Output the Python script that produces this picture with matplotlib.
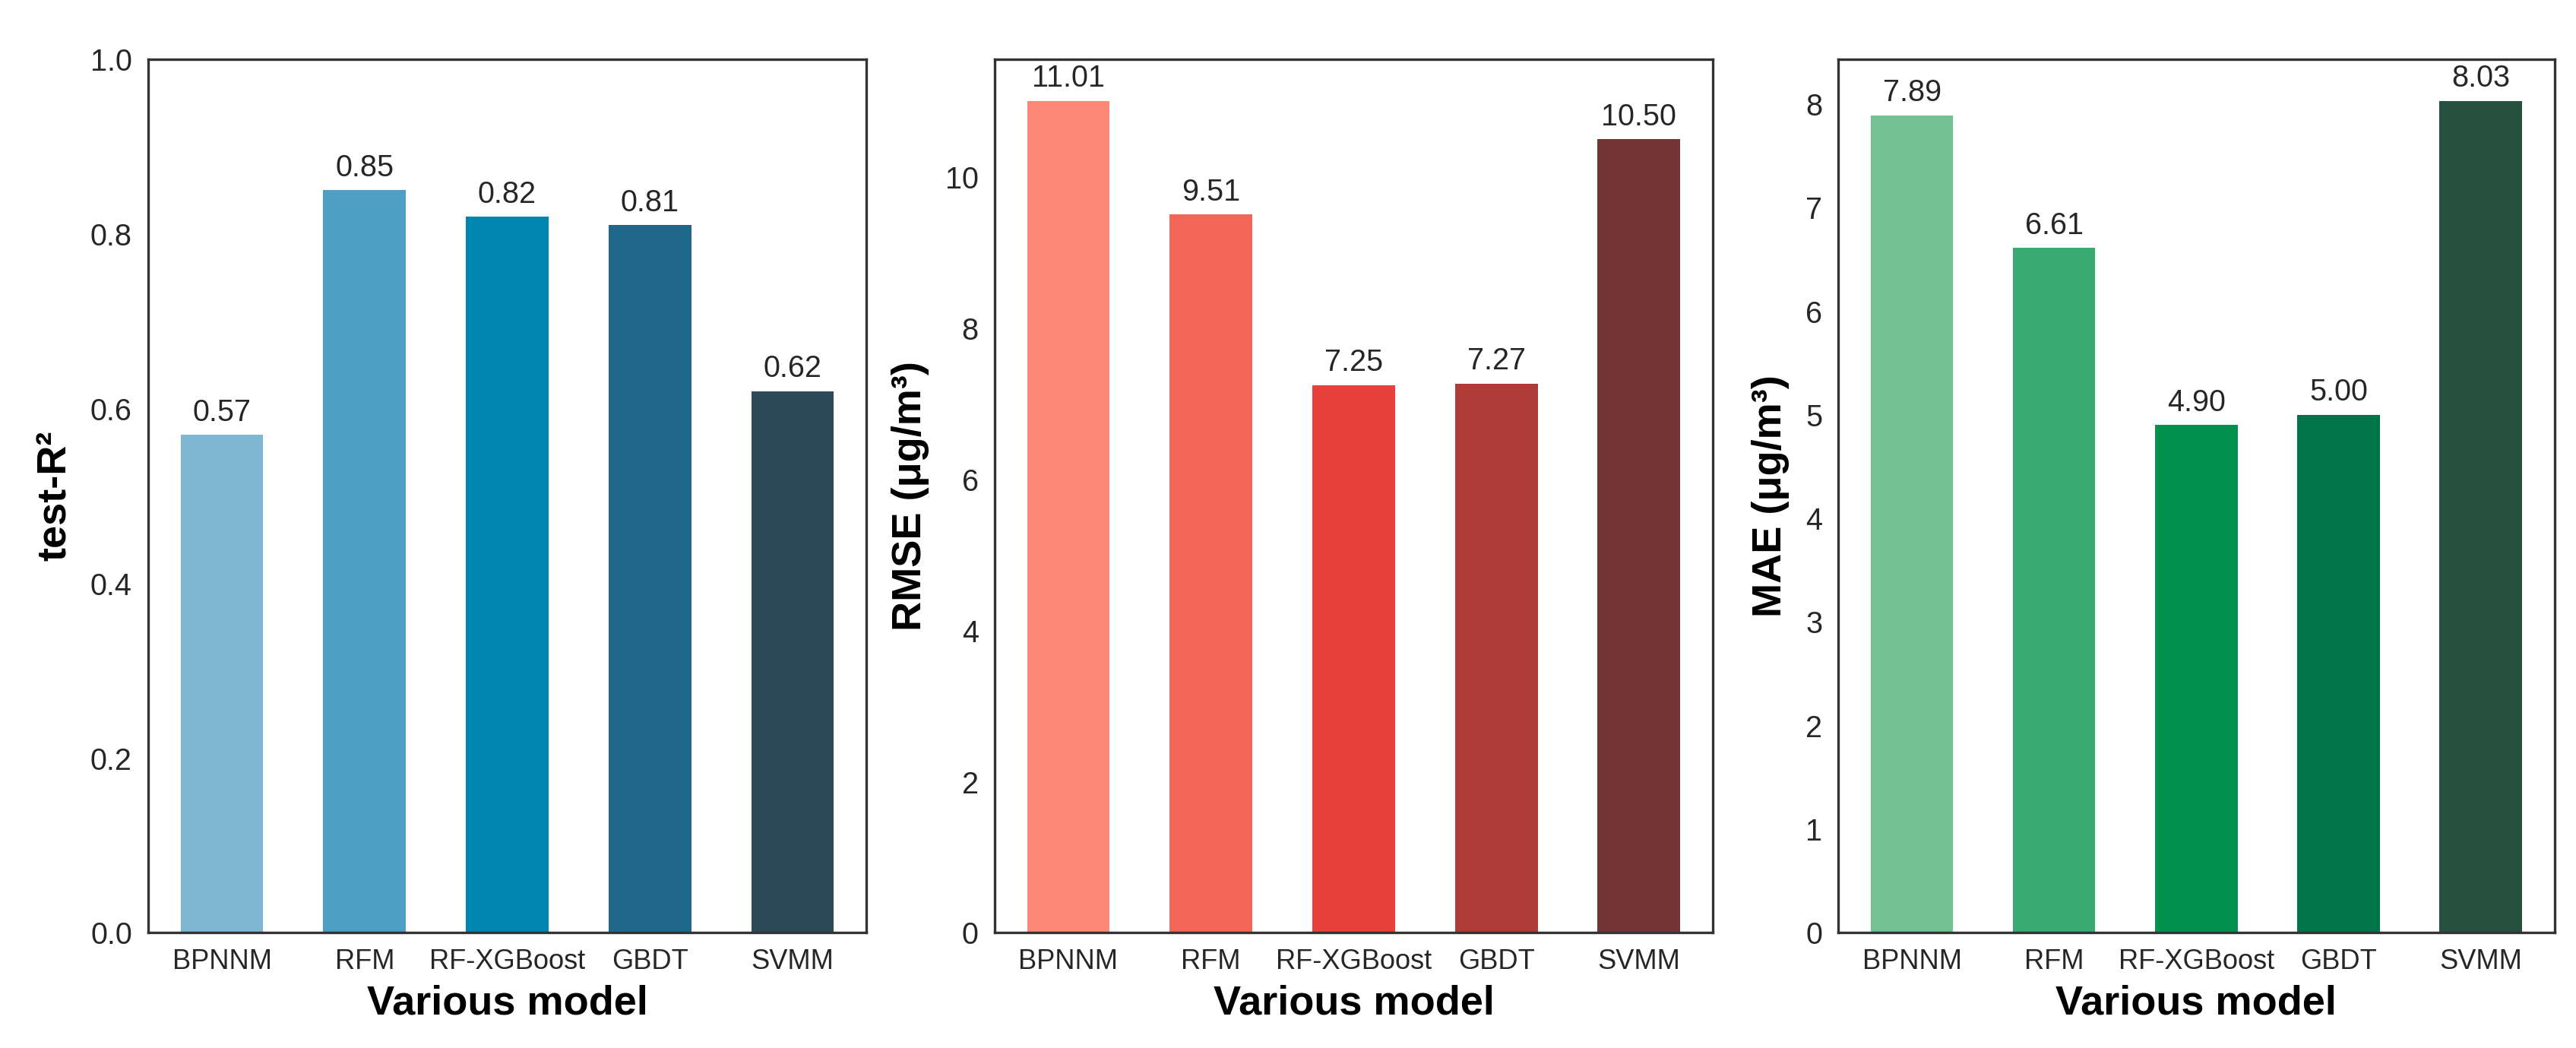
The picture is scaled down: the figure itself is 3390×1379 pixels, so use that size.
import matplotlib.pyplot as plt

plt.rcParams['font.family'] = ['Liberation Sans', 'DejaVu Sans']

models = ['BPNNM', 'RFM', 'RF-XGBoost', 'GBDT', 'SVMM']
r2 = [0.57, 0.85, 0.82, 0.81, 0.62]
rmse = [11.01, 9.51, 7.25, 7.27, 10.50]
mae = [7.89, 6.61, 4.90, 5.00, 8.03]

blues = ['#7fb6d2', '#4f9ec4', '#0085b1', '#1f6889', '#2d4a5b']
reds = ['#fc8977', '#f26658', '#e8403b', '#ae3c38', '#733435']
greens = ['#74c293', '#38ab73', '#00914f', '#00754a', '#27513e']

fig = plt.figure(figsize=(11.3, 4.597), dpi=300)

# axes boxes: left, bottom, width, height
boxes = [
    [0.0574, 0.110, 0.279, 0.8334],
    [0.386, 0.110, 0.279, 0.8334],
    [0.7136, 0.110, 0.278, 0.8334],
]
panels = [
    (r2, blues, 'test-R²'),
    (rmse, reds, 'RMSE (μg/m³)'),
    (mae, greens, 'MAE (μg/m³)'),
]

for i, (vals, cols, ylab) in enumerate(panels):
    ax = fig.add_axes(boxes[i])
    bars = ax.bar(models, vals, width=0.58, color=cols)
    ax.bar_label(bars, fmt='%.2f', padding=2.5, fontsize=9.5, color='#262626')
    if i == 0:
        ax.set_ylim(0, 1.0)
    ax.set_xlabel('Various model', fontsize=13, fontweight='bold', labelpad=3)
    ax.set_ylabel(ylab, fontsize=13, fontweight='bold', labelpad=5)
    ax.tick_params(axis='both', length=0, pad=5, colors='#262626')
    ax.tick_params(axis='y', labelsize=9.5)
    ax.tick_params(axis='x', labelsize=8.7)
    for s in ax.spines.values():
        s.set_color('#333333')
        s.set_linewidth(0.8)

fig.savefig('out.png', dpi=300)
